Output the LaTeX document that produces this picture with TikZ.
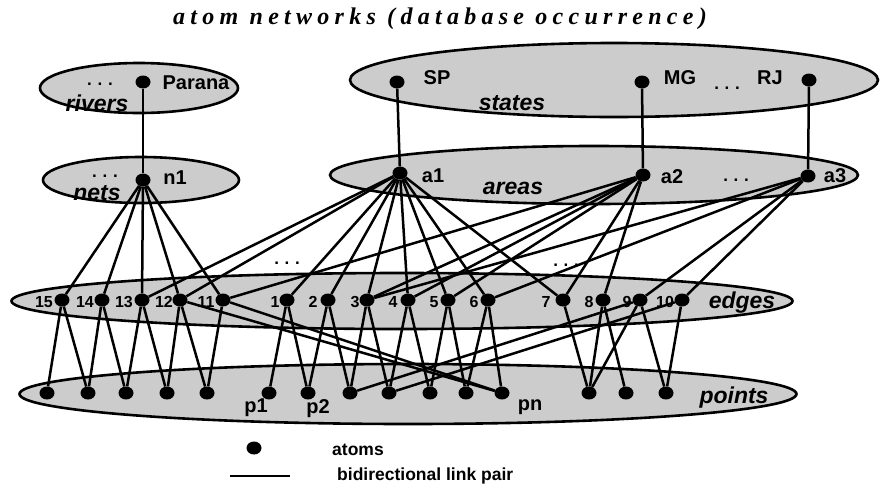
\documentclass[tikz,border=0pt]{standalone}
\usepackage{fontspec}
\setmainfont{Liberation Sans}
\newfontfamily\titlefont[LetterSpace=22]{Liberation Serif}
\usetikzlibrary{shapes.geometric}
\begin{document}
\begin{tikzpicture}[x=1pt,y=-1pt,
  region/.style={draw, line width=2.6pt, fill=black!20, ellipse, inner sep=0pt},
  atom/.style={ellipse, fill=black, inner sep=0pt, minimum width=15pt, minimum height=13pt},
  link/.style={line width=2.5pt},
  lbl/.style={font=\fontsize{20}{22}\selectfont\bfseries, inner sep=0pt},
  setlbl/.style={font=\fontsize{23}{25}\selectfont\bfseries\itshape, inner sep=0pt},
  num/.style={font=\fontsize{16}{18}\selectfont\bfseries, inner sep=0pt},
  ddd/.style={font=\fontsize{17}{19}\selectfont\bfseries, inner sep=0pt},
  leg/.style={font=\fontsize{17.5}{20}\selectfont\bfseries, inner sep=0pt, anchor=west},
]
\useasboundingbox (0,0) rectangle (881,488);

% title
\node[font=\fontsize{24}{26}\titlefont\bfseries\itshape, inner sep=0pt] (title) at (440,19) {atom networks (database occurrence)};

% regions
\node[region, minimum width=198pt, minimum height=50pt] (rivers) at (139,88) {};
\node[region, minimum width=196pt, minimum height=46pt] (nets) at (141,180) {};
\node[region, minimum width=528pt, minimum height=74pt] (states) at (614,80) {};
\node[region, minimum width=528pt, minimum height=58pt] (areas) at (594,175) {};
\node[region, minimum width=781pt, minimum height=56pt] (edges) at (402,301) {};
\node[region, minimum width=777pt, minimum height=60pt] (points) at (408,394) {};

% region labels
\node[setlbl] (riverslbl) at (97,103) {rivers};
\node[setlbl] (netslbl) at (97,193) {nets};
\node[setlbl] (stateslbl) at (512,103) {states};
\node[setlbl] (areaslbl) at (513,188) {areas};
\node[setlbl] (edgeslbl) at (742,303) {edges};
\node[setlbl] (pointslbl) at (734,398) {points};

% ellipsis marks
\node[ddd] (d1) at (100,84) {.\,\,.\,\,.};
\node[ddd] (d2) at (105,176) {.\,\,.\,\,.};
\node[ddd] (d3) at (727,88) {.\,\,.\,\,.};
\node[ddd] (d4) at (736,180) {.\,\,.\,\,.};
\node[ddd] (d5) at (287,263) {.\,\,.\,\,.};
\node[ddd] (d6) at (566,265) {.\,\,.\,\,.};

% atom labels
\node[lbl] (Paranalbl) at (196,83) {Parana};
\node[lbl] (n1lbl) at (175,178) {n1};
\node[lbl] (SPlbl) at (437,78) {SP};
\node[lbl] (MGlbl) at (680,78) {MG};
\node[lbl] (RJlbl) at (770,78) {RJ};
\node[lbl] (a1lbl) at (433,176) {a1};
\node[lbl] (a2lbl) at (672,177) {a2};
\node[lbl] (a3lbl) at (835,176) {a3};
\node[lbl] (p1lbl) at (256,408) {p1};
\node[lbl] (p2lbl) at (318,409) {p2};
\node[lbl] (pnlbl) at (530,407) {pn};

% edge labels
\foreach \t/\x in {15/44,14/85,13/124,12/164,11/206,1/275,2/313,3/355,4/393,5/434,6/474,7/546,8/589,9/627,10/665}
  \node[num] (el\t) at (\x,302) {\t};

% atoms
\node[atom] (Parana) at (143,82) {};
\node[atom] (n1) at (143,180) {};
\node[atom] (SP) at (397,82) {};
\node[atom] (MG) at (642,82) {};
\node[atom] (RJ) at (809,80) {};
\node[atom] (a1) at (400,173) {};
\node[atom] (a2) at (643,175) {};
\node[atom] (a3) at (808,176) {};
\foreach \n/\x in {15/62,14/102,13/142,12/180,11/223,1/287,2/328,3/367,4/408,5/448,6/488,7/563,8/603,9/640,10/682}
  \node[atom] (e\n) at (\x,300) {};
\foreach \n/\x in {q1/47,q2/88,q3/126,q4/167,q5/207,p1/269,p2/308,q8/350,q9/389,q10/430,q11/466,pn/502,q13/589,q14/626,q15/666}
  \node[atom] (\n) at (\x,393) {};

% links
\foreach \a/\b in {Parana/n1, SP/a1, MG/a2, RJ/a3,
  n1/e15, n1/e14, n1/e13, n1/e12, n1/e11,
  a1/e13, a1/e12, a1/e1, a1/e2, a1/e3, a1/e4, a1/e5, a1/e6, a1/e7,
  a2/e11, a2/e3, a2/e4, a2/e5, a2/e7, a2/e8,
  a3/e3, a3/e6, a3/e9, a3/e10,
  e15/q1, e15/q2, e14/q2, e14/q3, e13/q3, e13/q4, e12/q4, e12/q5, e12/pn, e11/q5, e11/pn,
  e1/p1, e1/p2, e2/p2, e2/q8, e3/q8, e3/q9, e4/q9, e4/q10, e5/q10, e5/q11, e6/q11, e6/pn,
  e7/q13, e8/q13, e8/q14, e9/q13, e9/q15, e9/q8, e10/q15, e10/q9}
  \draw[link] (\a) -- (\b);

% legend
\node[atom] (legdot) at (254,448) {};
\node[leg] (legatoms) at (332,450) {atoms};
\coordinate (legA) at (230,476);
\coordinate (legB) at (290,476);
\draw[link] (legA) -- (legB);
\node[leg] (leglink) at (337,476) {bidirectional link pair};
\end{tikzpicture}
\end{document}
